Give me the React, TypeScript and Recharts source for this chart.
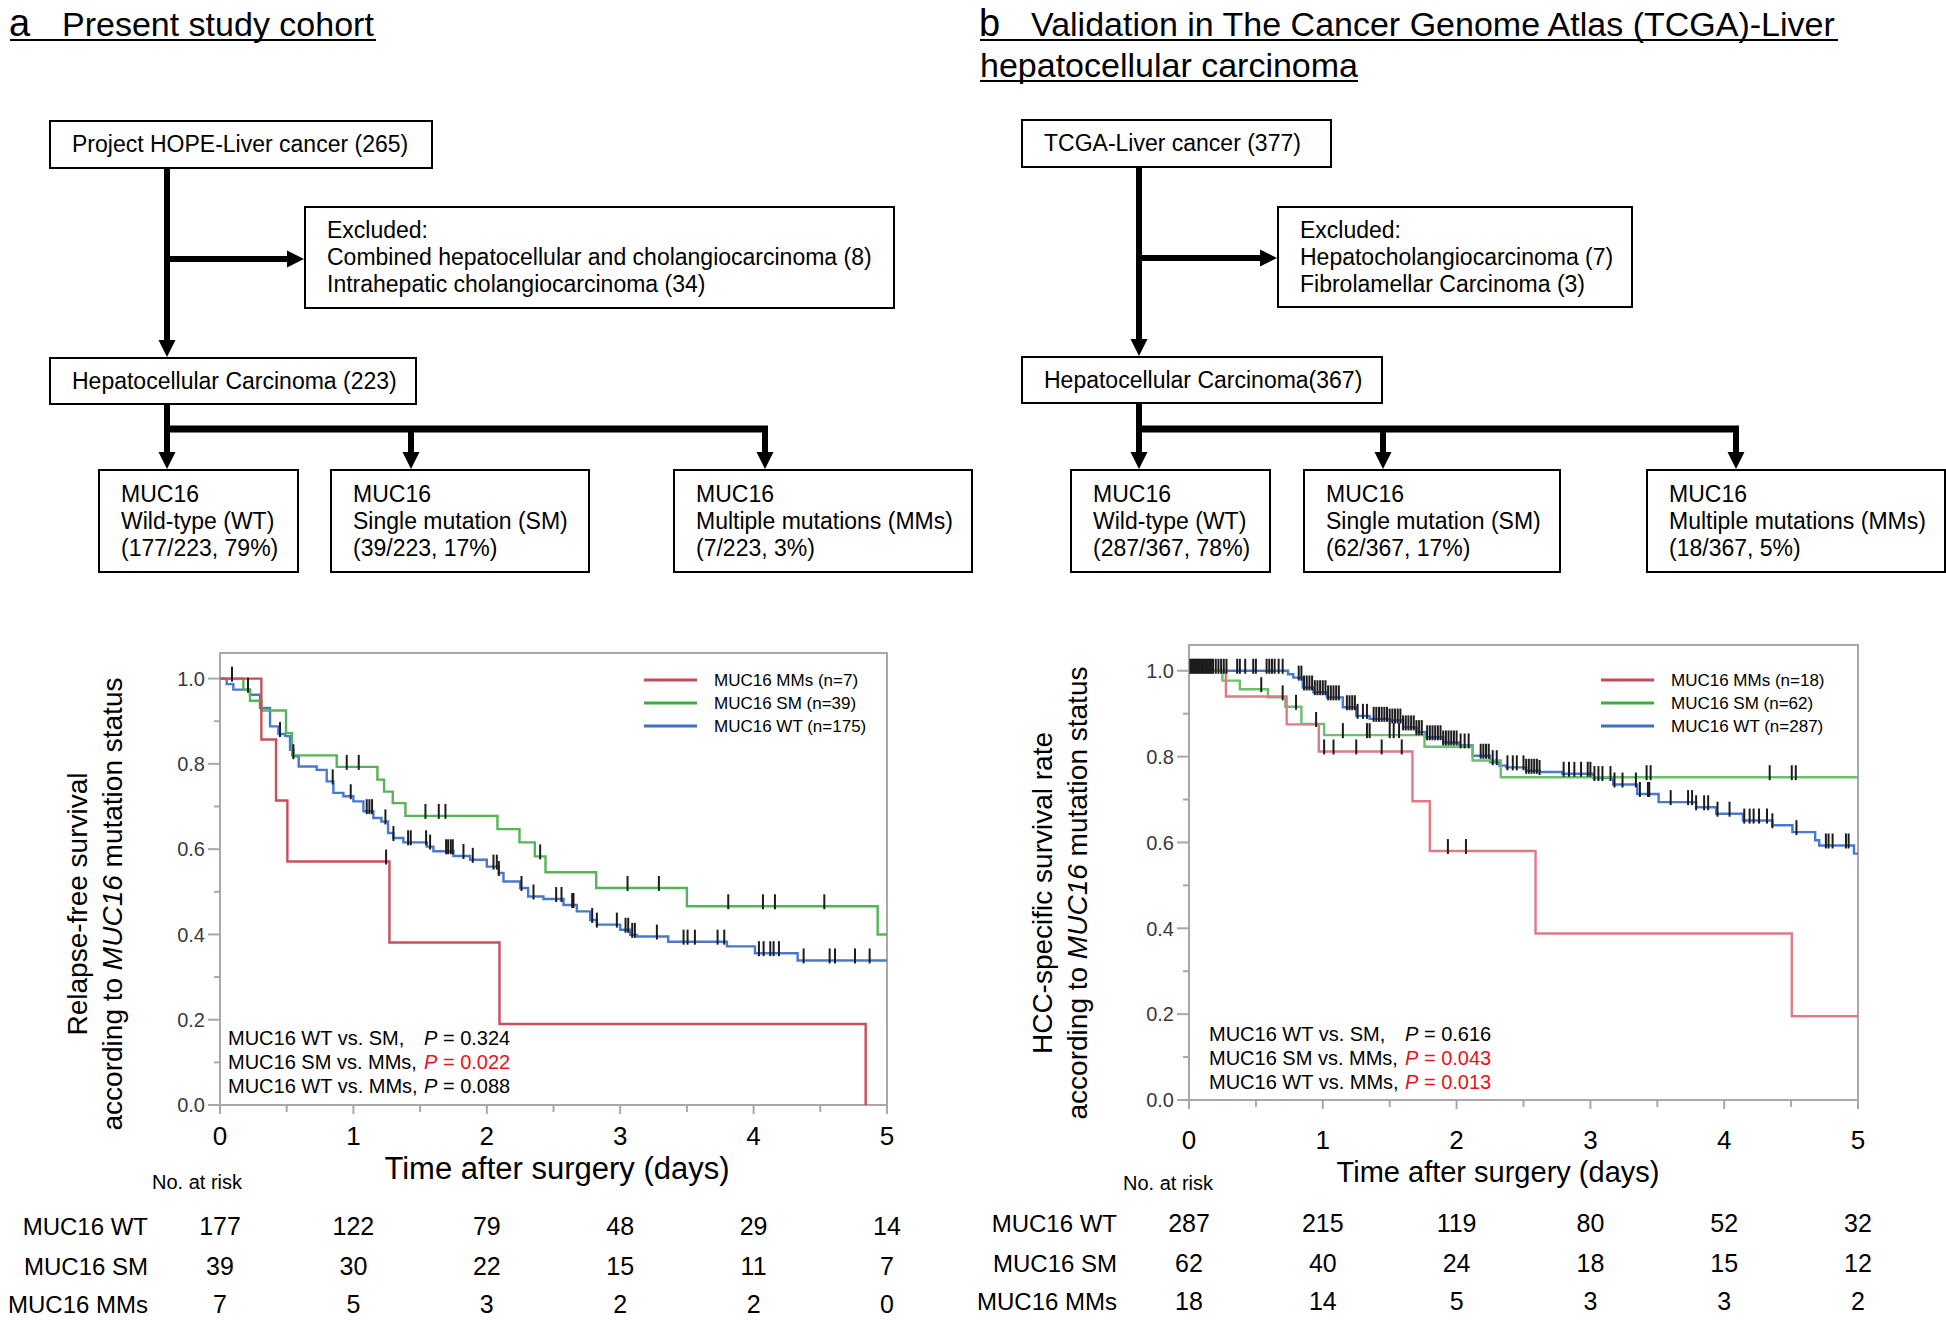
import React from "react";
import {
  ComposedChart,
  Line,
  Scatter,
  XAxis,
  YAxis,
  ReferenceArea,
} from "recharts";

type Pt = [number, number];

// ---- axis ticks ----
const timeTicks = [0, 0.5, 1, 1.5, 2, 2.5, 3, 3.5, 4, 4.5, 5];
const survTicks = [0, 0.1, 0.2, 0.3, 0.4, 0.5, 0.6, 0.7, 0.8, 0.9, 1.0];
const groupLabels = ["MUC16 WT", "MUC16 SM", "MUC16 MMs"];

// ---- panel a: present study cohort (time, survival) ----
const aMMs: Pt[] = [
  [0, 1], [0.31, 0.857], [0.42, 0.714], [0.505, 0.571], [1.27, 0.381],
  [2.095, 0.19], [4.84, 0],
];
const aSM: Pt[] = [
  [0, 1], [0.175, 0.974], [0.225, 0.948], [0.31, 0.925], [0.495, 0.872],
  [0.54, 0.82], [0.875, 0.793], [1.18, 0.763], [1.23, 0.735], [1.295, 0.708],
  [1.39, 0.678], [2.08, 0.647], [2.245, 0.616], [2.36, 0.583], [2.44, 0.546],
  [2.82, 0.509], [3.5, 0.466], [4.93, 0.4], [5, 0.4],
];
const aWT: Pt[] = [
  [0, 1], [0.05, 0.987], [0.1, 0.974], [0.225, 0.962], [0.3, 0.931],
  [0.375, 0.888], [0.4375, 0.87], [0.49, 0.865], [0.525, 0.833], [0.55, 0.818],
  [0.59, 0.794], [0.725, 0.786], [0.8, 0.759], [0.85, 0.732], [0.925, 0.724],
  [1.0, 0.712], [1.075, 0.689], [1.15, 0.673], [1.21, 0.665], [1.26, 0.638],
  [1.3, 0.626], [1.375, 0.616], [1.55, 0.606], [1.6, 0.595], [1.75, 0.584],
  [1.875, 0.575], [2.0, 0.559], [2.09, 0.544], [2.125, 0.524], [2.25, 0.509],
  [2.31, 0.489], [2.425, 0.483], [2.575, 0.469], [2.675, 0.454], [2.775, 0.434],
  [2.825, 0.423], [3.0, 0.411], [3.075, 0.399], [3.125, 0.395], [3.36, 0.383],
  [3.8, 0.372], [4.01, 0.356], [4.33, 0.339], [5, 0.339],
];
const aMMsCensor = [1.245];
const aSMCensor = [0.09, 0.95, 1.04, 1.54, 1.64, 1.69, 2.4, 3.055, 3.29, 3.81, 4.07, 4.16, 4.53];
const aWTCensor = [
  0.21, 0.45, 0.55, 0.845, 0.98, 1.1, 1.12, 1.14, 1.24, 1.3, 1.41, 1.43, 1.545,
  1.575, 1.695, 1.71, 1.73, 1.745, 1.825, 1.895, 2.05, 2.075, 2.09, 2.26, 2.35,
  2.52, 2.56, 2.64, 2.65, 2.79, 2.825, 2.975, 3.04, 3.06, 3.09, 3.11, 3.275,
  3.475, 3.505, 3.56, 3.73, 3.78, 4.04, 4.075, 4.125, 4.15, 4.19, 4.375, 4.57,
  4.61, 4.76, 4.87,
];
const aRiskWT = [177, 122, 79, 48, 29, 14];
const aRiskSM = [39, 30, 22, 15, 11, 7];
const aRiskMMs = [7, 5, 3, 2, 2, 0];
const aLegend = ["MUC16 MMs (n=7)", "MUC16 SM (n=39)", "MUC16 WT (n=175)"];
const aPvals = ["0.324", "0.022", "0.088"];

// ---- panel b: TCGA validation ----
const bMMs: Pt[] = [
  [0, 1], [0.276, 0.94], [0.73, 0.875], [0.97, 0.812], [1.67, 0.696],
  [1.8, 0.58], [2.59, 0.388], [4.505, 0.195], [5, 0.195],
];
const bSM: Pt[] = [
  [0, 1], [0.25, 0.977], [0.38, 0.957], [0.59, 0.938], [0.72, 0.916],
  [0.84, 0.876], [1.01, 0.85], [1.76, 0.823], [2.12, 0.791], [2.33, 0.752],
  [5, 0.752],
];
const bWT: Pt[] = [
  [0, 1], [0.74, 0.992], [0.78, 0.984], [0.85, 0.961], [0.93, 0.95],
  [1.03, 0.938], [1.15, 0.915], [1.25, 0.895], [1.35, 0.888], [1.5, 0.884],
  [1.6, 0.868], [1.7, 0.857], [1.77, 0.845], [1.9, 0.833], [2.02, 0.826],
  [2.12, 0.802], [2.25, 0.787], [2.32, 0.779], [2.37, 0.775], [2.52, 0.767],
  [2.62, 0.764], [2.79, 0.76], [3.02, 0.75], [3.17, 0.735], [3.35, 0.713],
  [3.51, 0.694], [3.79, 0.682], [3.94, 0.667], [4.14, 0.651], [4.36, 0.64],
  [4.51, 0.624], [4.68, 0.605], [4.71, 0.593], [4.97, 0.574], [5, 0.574],
];
const bMMsCensor = [1.01, 1.08, 1.25, 1.44, 1.59, 1.935, 2.07];
const bSMCensor = [0.54, 0.7, 0.8, 0.95, 1.15, 1.33, 1.35, 1.5, 1.53, 1.57, 3.42, 3.45, 4.34, 4.505, 4.535];
const bWTCensor = [
  0.01, 0.02, 0.03, 0.04, 0.05, 0.06, 0.07, 0.08, 0.09, 0.1, 0.11, 0.12, 0.13,
  0.14, 0.15, 0.16, 0.17, 0.18, 0.2, 0.22, 0.24, 0.26, 0.28, 0.36, 0.38, 0.42,
  0.48, 0.5, 0.58, 0.6, 0.62, 0.64, 0.67, 0.7, 0.82, 0.84, 0.86, 0.88, 0.9,
  0.92, 0.94, 0.96, 0.98, 1.0, 1.02, 1.04, 1.06, 1.08, 1.1, 1.12, 1.18, 1.2,
  1.22, 1.24, 1.26, 1.3, 1.33, 1.38, 1.4, 1.42, 1.44, 1.46, 1.48, 1.5, 1.52,
  1.54, 1.56, 1.58, 1.6, 1.62, 1.64, 1.66, 1.68, 1.7, 1.72, 1.74, 1.78, 1.8,
  1.82, 1.84, 1.86, 1.88, 1.9, 1.92, 1.94, 1.96, 1.98, 2.0, 2.03, 2.06, 2.09,
  2.18, 2.2, 2.22, 2.24, 2.27, 2.3, 2.38, 2.42, 2.45, 2.5, 2.52, 2.54, 2.56,
  2.58, 2.6, 2.62, 2.8, 2.84, 2.88, 2.93, 2.98, 3.0, 3.03, 3.06, 3.09, 3.15,
  3.18, 3.24, 3.34, 3.37, 3.43, 3.44, 3.6, 3.73, 3.76, 3.79, 3.85, 3.88, 3.95,
  4.04, 4.15, 4.19, 4.22, 4.26, 4.32, 4.36, 4.54, 4.76, 4.78, 4.81, 4.91, 4.93,
];
const bRiskWT = [287, 215, 119, 80, 52, 32];
const bRiskSM = [62, 40, 24, 18, 15, 12];
const bRiskMMs = [18, 14, 5, 3, 3, 2];
const bLegend = ["MUC16 MMs (n=18)", "MUC16 SM (n=62)", "MUC16 WT (n=287)"];
const bPvals = ["0.616", "0.043", "0.013"];

const FRAME = "#a8a8a8";
const RED_TXT = "#e3141b";

const toPts = (c: Pt[]) => c.map(([t, s]) => ({ t, s }));
const stepValue = (c: Pt[], t: number) => {
  let s = c[0][1];
  for (const [ct, cs] of c) {
    if (ct <= t) s = cs;
    else break;
  }
  return s;
};
const censorPts = (c: Pt[], times: number[]) =>
  times.map((t) => ({ t, s: stepValue(c, t) }));

const CensorMark = (p: any) => {
  if (p.cx == null || p.cy == null) return <g />;
  return (
    <line x1={p.cx} x2={p.cx} y1={p.cy - 12} y2={p.cy + 3} stroke="#1c1c1c" strokeWidth={2} />
  );
};

type Series = { curve: Pt[]; censor: number[]; color: string };

function KMChart({
  left, top, yAxisW, plotW, plotH, series, risk, tickBase, rowBase,
}: {
  left: number; top: number; yAxisW: number; plotW: number; plotH: number;
  series: Series[]; risk: number[][]; tickBase: number; rowBase: number[];
}) {
  const axisH = 225;
  const rightPad = 40;
  const timeTick = (props: any) => {
    const { x, y, payload } = props;
    const v = payload.value as number;
    const isInt = Math.abs(v - Math.round(v)) < 1e-9;
    const i = Math.round(v);
    return (
      <g>
        <line x1={x} x2={x} y1={y} y2={y + (isInt ? 9 : 7)} stroke={FRAME} strokeWidth={2} />
        {isInt && (
          <text x={x} y={y + tickBase} textAnchor="middle" fontSize={26} fill="#000">{i}</text>
        )}
        {isInt &&
          risk.map((row, r) => (
            <text key={r} x={x} y={y + rowBase[r]} textAnchor="middle" fontSize={25} fill="#000">
              {row[i]}
            </text>
          ))}
        {i === 0 && isInt &&
          groupLabels.map((g, r) => (
            <text key={g} x={x - 72} y={y + rowBase[r]} textAnchor="end" fontSize={24} fill="#000">
              {g}
            </text>
          ))}
      </g>
    );
  };
  const survTick = (props: any) => {
    const { x, y, payload } = props;
    const v = payload.value as number;
    const major = Math.round(v * 10) % 2 === 0;
    return (
      <g>
        <line x1={x - (major ? 12 : 6)} x2={x} y1={y} y2={y} stroke={FRAME} strokeWidth={2} />
        {major && (
          <text x={x - 15} y={y} dy="0.36em" textAnchor="end" fontSize={20} fill="#3a3a3a">
            {v.toFixed(1)}
          </text>
        )}
      </g>
    );
  };
  return (
    <div style={{ position: "absolute", left, top }}>
      <ComposedChart
        width={yAxisW + plotW + rightPad}
        height={10 + plotH + axisH}
        margin={{ top: 10, right: rightPad, bottom: 0, left: 0 }}
      >
        <XAxis
          type="number"
          dataKey="t"
          domain={[0, 5]}
          ticks={timeTicks}
          interval={0}
          allowDataOverflow
          axisLine={false}
          tickLine={false}
          tickSize={0}
          tickMargin={0}
          height={axisH}
          tick={timeTick}
        />
        <YAxis
          type="number"
          dataKey="s"
          domain={[0, 1.06]}
          ticks={survTicks}
          interval={0}
          allowDataOverflow
          axisLine={false}
          tickLine={false}
          tickSize={0}
          tickMargin={0}
          width={yAxisW}
          tick={survTick}
        />
        <ReferenceArea x1={0} x2={5} y1={0} y2={1.06} fill="none" stroke={FRAME} strokeWidth={2} />
        {series.map((s, k) => (
          <Line
            key={"l" + k}
            data={toPts(s.curve)}
            dataKey="s"
            type="stepAfter"
            stroke={s.color}
            strokeWidth={2.4}
            dot={false}
            activeDot={false}
            isAnimationActive={false}
          />
        ))}
        {series.map((s, k) => (
          <Scatter
            key={"c" + k}
            data={censorPts(s.curve, s.censor)}
            dataKey="s"
            shape={CensorMark}
            isAnimationActive={false}
          />
        ))}
      </ComposedChart>
    </div>
  );
}

function FlowBox({
  left, top, w, h, lines, padTop,
}: { left: number; top: number; w: number; h: number; lines: string[]; padTop?: number }) {
  const single = lines.length === 1;
  return (
    <div
      style={{
        position: "absolute", left, top, width: w, height: h, boxSizing: "border-box",
        border: "2px solid #000", paddingLeft: 21, paddingTop: single ? 0 : padTop ?? 9,
        display: single ? "flex" : "block", alignItems: "center",
        fontSize: 23, lineHeight: "27px", whiteSpace: "nowrap",
      }}
    >
      {single ? lines[0] : lines.map((l) => <div key={l}>{l}</div>)}
    </div>
  );
}

const Down = ({ x, y1, y2 }: { x: number; y1: number; y2: number }) => (
  <g>
    <line x1={x} x2={x} y1={y1} y2={y2 - 15} stroke="#000" strokeWidth={6} />
    <polygon points={`${x - 8.5},${y2 - 17} ${x + 8.5},${y2 - 17} ${x},${y2}`} fill="#000" />
  </g>
);
const Right = ({ y, x1, x2 }: { y: number; x1: number; x2: number }) => (
  <g>
    <line x1={x1} x2={x2 - 15} y1={y} y2={y} stroke="#000" strokeWidth={6} />
    <polygon points={`${x2 - 17},${y - 8.5} ${x2 - 17},${y + 8.5} ${x2},${y}`} fill="#000" />
  </g>
);

function Legend({ x, y, labels }: { x: number; y: number; labels: string[] }) {
  const cols = ["#c44a58", "#3faa3f", "#3f6cc4"];
  return (
    <g>
      {labels.map((l, i) => (
        <g key={l}>
          <line x1={x} x2={x + 53} y1={y + i * 23} y2={y + i * 23} stroke={cols[i]} strokeWidth={3} />
          <text x={x + 70} y={y + i * 23 + 6} fontSize={17} fill="#000">{l}</text>
        </g>
      ))}
    </g>
  );
}

function Pvals({ x, px, y, vals, red }: { x: number; px: number; y: number; vals: string[]; red: boolean[] }) {
  const pre = ["MUC16 WT vs. SM,", "MUC16 SM vs. MMs,", "MUC16 WT vs. MMs,"];
  return (
    <g fontSize={20}>
      {pre.map((p, i) => (
        <g key={p}>
          <text x={x} y={y + i * 24} fill="#000">{p}</text>
          <text x={px} y={y + i * 24} fill={red[i] ? RED_TXT : "#000"}>
            <tspan fontStyle="italic">P</tspan> = {vals[i]}
          </text>
        </g>
      ))}
    </g>
  );
}

export default function App() {
  return (
    <div
      style={{
        position: "absolute", left: 0, top: 0, width: 1946, height: 1320, overflow: "hidden",
        background: "#fff", color: "#000", fontFamily: '"Liberation Sans", Arial, sans-serif',
      }}
    >
      {/* flowchart a */}
      <FlowBox left={49} top={120} w={384} h={49} lines={["Project HOPE-Liver cancer (265)"]} />
      <FlowBox left={304} top={206} w={591} h={103} lines={["Excluded:", "Combined hepatocellular and cholangiocarcinoma (8)", "Intrahepatic cholangiocarcinoma (34)"]} />
      <FlowBox left={49} top={357} w={368} h={48} lines={["Hepatocellular Carcinoma (223)"]} />
      <FlowBox left={98} top={469} w={201} h={104} padTop={10} lines={["MUC16", "Wild-type (WT)", "(177/223, 79%)"]} />
      <FlowBox left={330} top={469} w={260} h={104} padTop={10} lines={["MUC16", "Single mutation (SM)", "(39/223, 17%)"]} />
      <FlowBox left={673} top={469} w={300} h={104} padTop={10} lines={["MUC16", "Multiple mutations (MMs)", "(7/223, 3%)"]} />
      {/* flowchart b */}
      <FlowBox left={1021} top={119} w={311} h={49} lines={["TCGA-Liver cancer (377)"]} />
      <FlowBox left={1277} top={206} w={356} h={102} lines={["Excluded:", "Hepatocholangiocarcinoma (7)", "Fibrolamellar Carcinoma (3)"]} />
      <FlowBox left={1021} top={356} w={362} h={48} lines={["Hepatocellular Carcinoma(367)"]} />
      <FlowBox left={1070} top={469} w={201} h={104} padTop={10} lines={["MUC16", "Wild-type (WT)", "(287/367, 78%)"]} />
      <FlowBox left={1303} top={469} w={258} h={104} padTop={10} lines={["MUC16", "Single mutation (SM)", "(62/367, 17%)"]} />
      <FlowBox left={1646} top={469} w={300} h={104} padTop={10} lines={["MUC16", "Multiple mutations (MMs)", "(18/367, 5%)"]} />

      <KMChart
        left={0} top={643} yAxisW={220} plotW={667} plotH={452}
        series={[
          { curve: aWT, censor: aWTCensor, color: "#4a78cc" },
          { curve: aSM, censor: aSMCensor, color: "#55b455" },
          { curve: aMMs, censor: aMMsCensor, color: "#c8505c" },
        ]}
        risk={[aRiskWT, aRiskSM, aRiskMMs]}
        tickBase={40}
        rowBase={[130, 170, 208]}
      />
      <KMChart
        left={959} top={635} yAxisW={230} plotW={669} plotH={455}
        series={[
          { curve: bWT, censor: bWTCensor, color: "#4a78cc" },
          { curve: bSM, censor: bSMCensor, color: "#6cbf6c" },
          { curve: bMMs, censor: bMMsCensor, color: "#e07a86" },
        ]}
        risk={[bRiskWT, bRiskSM, bRiskMMs]}
        tickBase={49}
        rowBase={[132, 172, 210]}
      />

      <svg
        width={1946}
        height={1320}
        style={{ position: "absolute", left: 0, top: 0, pointerEvents: "none" }}
        fontFamily='"Liberation Sans", Arial, sans-serif'
      >
        {/* titles */}
        <text x={9} y={36} fontSize={38}>a</text>
        <text x={62} y={36} fontSize={34}>Present study cohort</text>
        <line x1={10} x2={376} y1={40} y2={40} stroke="#000" strokeWidth={2} />
        <text x={979} y={36} fontSize={38}>b</text>
        <text x={1031} y={36} fontSize={34}>Validation in The Cancer Genome Atlas (TCGA)-Liver</text>
        <line x1={980} x2={1838} y1={40} y2={40} stroke="#000" strokeWidth={2} />
        <text x={980} y={77} fontSize={34}>hepatocellular carcinoma</text>
        <line x1={980} x2={1358} y1={81} y2={81} stroke="#000" strokeWidth={2} />

        {/* arrows a */}
        <Down x={167} y1={169} y2={357} />
        <Right y={259} x1={167} x2={304} />
        <Down x={167} y1={405} y2={469} />
        <line x1={164} x2={768} y1={429} y2={429} stroke="#000" strokeWidth={7} />
        <Down x={411} y1={429} y2={469} />
        <Down x={765} y1={429} y2={469} />
        {/* arrows b */}
        <Down x={1139} y1={168} y2={356} />
        <Right y={258} x1={1139} x2={1277} />
        <Down x={1139} y1={404} y2={469} />
        <line x1={1136} x2={1739} y1={429} y2={429} stroke="#000" strokeWidth={7} />
        <Down x={1383} y1={429} y2={469} />
        <Down x={1736} y1={429} y2={469} />

        {/* axis titles */}
        <g fontSize={28} textAnchor="middle">
          <text x={87} y={904} transform="rotate(-90 87 904)">Relapse-free survival</text>
          <text x={122} y={904} transform="rotate(-90 122 904)">
            according to <tspan fontStyle="italic">MUC16</tspan> mutation status
          </text>
          <text x={1052} y={893} transform="rotate(-90 1052 893)">HCC-specific survival rate</text>
          <text x={1087} y={893} transform="rotate(-90 1087 893)">
            according to <tspan fontStyle="italic">MUC16</tspan> mutation status
          </text>
        </g>
        <text x={557} y={1179} fontSize={31} textAnchor="middle">Time after surgery (days)</text>
        <text x={1498} y={1182} fontSize={29} textAnchor="middle">Time after surgery (days)</text>
        <text x={197} y={1189} fontSize={20} textAnchor="middle">No. at risk</text>
        <text x={1168} y={1190} fontSize={20} textAnchor="middle">No. at risk</text>

        <Legend x={644} y={680} labels={aLegend} />
        <Legend x={1601} y={680} labels={bLegend} />
        <Pvals x={228} px={424} y={1045} vals={aPvals} red={[false, true, false]} />
        <Pvals x={1209} px={1405} y={1041} vals={bPvals} red={[false, true, true]} />
      </svg>
    </div>
  );
}
